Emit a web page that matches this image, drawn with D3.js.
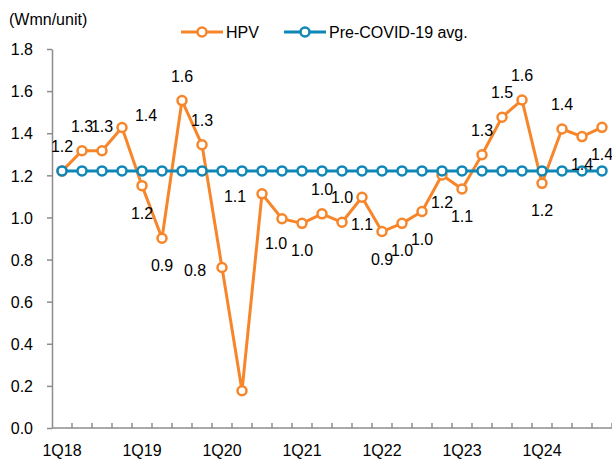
<!DOCTYPE html>
<html>
<head>
<meta charset="utf-8">
<script src="https://cdn.jsdelivr.net/npm/d3@7"></script>
<style>
  body { margin: 0; background: #fff; }
  svg { display: block; font-family: "Liberation Sans", Arial, sans-serif; }
</style>
</head>
<body>
<script>
// DEFINE VARIABLES
var quarters = [
  '1Q18', '2Q18', '3Q18', '4Q18',
  '1Q19', '2Q19', '3Q19', '4Q19',
  '1Q20', '2Q20', '3Q20', '4Q20',
  '1Q21', '2Q21', '3Q21', '4Q21',
  '1Q22', '2Q22', '3Q22', '4Q22',
  '1Q23', '2Q23', '3Q23', '4Q23',
  '1Q24', '2Q24', '3Q24', '4Q24'
];
var hpv = [
  1.22, 1.317, 1.317, 1.427,
  1.151, 0.901, 1.555, 1.345,
  0.762, 0.177, 1.112, 0.994,
  0.972, 1.017, 0.977, 1.096,
  0.933, 0.972, 1.028, 1.202,
  1.135, 1.298, 1.476, 1.558,
  1.162, 1.42, 1.384, 1.428
];
var preCovidAvg = 1.221;
var yTicks = [0, 0.2, 0.4, 0.6, 0.8, 1.0, 1.2, 1.4, 1.6, 1.8];
var xLabelEvery = 4;
// where each HPV data label sits: a=above, b=below, l=left, r=right, bl=below-left, n=none
var labelSide = [
  'a', 'a', 'a', 'r',
  'b', 'b', 'a', 'a',
  'l', 'n', 'l', 'bl',
  'b', 'a', 'a', 'b',
  'b', 'b', 'b', 'b',
  'b', 'a', 'a', 'a',
  'b', 'a', 'b', 'b'
];

var svgWidth = 612;
var svgHeight = 463;
var fontSize = '16px';
var orange = '#f7862a';
var blue = '#0f87b6';
var axisGrey = '#8c8c8c';

// DEFINE FUNCTIONS
function labelOffset(side) {
  if (side === 'a') return [0, -25];
  if (side === 'b') return [0, 27];
  if (side === 'l') return [-27, 2];
  if (side === 'r') return [24, -13];
  if (side === 'bl') return [-6, 24];
  return null;
}

document.addEventListener('DOMContentLoaded', function() {

  var svg = d3.select('body')
    .append('svg')
    .attr('width', svgWidth)
    .attr('height', svgHeight);

  var x = d3.scaleBand()
    .domain(quarters)
    .range([52, 612]);

  var y = d3.scaleLinear()
    .domain([0, 1.8])
    .range([428, 49]);

  function cx(q) {
    return x(q) + x.bandwidth() / 2;
  }

  // y axis
  var yAxis = svg.append('g')
    .attr('transform', 'translate(52,0)')
    .call(d3.axisLeft(y)
      .tickValues(yTicks)
      .tickFormat(d3.format('.1f'))
      .tickSize(5)
      .tickSizeOuter(0)
      .tickPadding(14));
  yAxis.select('.domain').attr('stroke', axisGrey).attr('stroke-width', 1.5);
  yAxis.selectAll('.tick line').attr('stroke', axisGrey).attr('stroke-width', 1.5);
  yAxis.selectAll('.tick text')
    .attr('fill', '#000')
    .attr('dy', '0.36em')
    .style('font-size', fontSize)
    .style('font-family', '"Liberation Sans", Arial, sans-serif');

  // x axis: line, ticks between quarters pointing up, labels every 4th quarter
  var xAxis = svg.append('g');
  xAxis.append('line')
    .attr('x1', 52)
    .attr('x2', 612)
    .attr('y1', y(0))
    .attr('y2', y(0))
    .attr('stroke', axisGrey)
    .attr('stroke-width', 1.5);

  xAxis.selectAll('.xtick')
    .data(quarters)
    .enter()
    .append('line')
    .attr('class', 'xtick')
    .attr('x1', function(d) { return x(d) + x.bandwidth(); })
    .attr('x2', function(d) { return x(d) + x.bandwidth(); })
    .attr('y1', y(0))
    .attr('y2', y(0) - 5)
    .attr('stroke', axisGrey)
    .attr('stroke-width', 1.5);

  xAxis.selectAll('.xlabel')
    .data(quarters.filter(function(d, i) { return i % xLabelEvery === 0; }))
    .enter()
    .append('text')
    .attr('class', 'xlabel')
    .attr('x', function(d) { return cx(d); })
    .attr('y', y(0) + 28)
    .attr('text-anchor', 'middle')
    .style('font-size', fontSize)
    .text(function(d) { return d; });

  // HPV series
  var seriesLine = d3.line()
    .x(function(d, i) { return cx(quarters[i]); })
    .y(function(d) { return y(d); });

  svg.append('path')
    .datum(hpv)
    .attr('d', seriesLine)
    .attr('fill', 'none')
    .attr('stroke', orange)
    .attr('stroke-width', 3)
    .attr('stroke-linejoin', 'round');

  svg.selectAll('.hpv-dot')
    .data(hpv)
    .enter()
    .append('circle')
    .attr('class', 'hpv-dot')
    .attr('cx', function(d, i) { return cx(quarters[i]); })
    .attr('cy', function(d) { return y(d); })
    .attr('r', 4.5)
    .attr('fill', '#fff')
    .attr('stroke', orange)
    .attr('stroke-width', 2.5);

  // pre-covid average series
  var avgData = quarters.map(function() { return preCovidAvg; });
  svg.append('path')
    .datum(avgData)
    .attr('d', seriesLine)
    .attr('fill', 'none')
    .attr('stroke', blue)
    .attr('stroke-width', 3);

  svg.selectAll('.avg-dot')
    .data(avgData)
    .enter()
    .append('circle')
    .attr('class', 'avg-dot')
    .attr('cx', function(d, i) { return cx(quarters[i]); })
    .attr('cy', function(d) { return y(d); })
    .attr('r', 4.5)
    .attr('fill', '#fff')
    .attr('stroke', blue)
    .attr('stroke-width', 2.5);

  // data labels
  var labelData = hpv.map(function(d, i) {
    return { q: quarters[i], v: d, off: labelOffset(labelSide[i]) };
  }).filter(function(d) { return d.off !== null; });

  svg.selectAll('.hpv-label')
    .data(labelData)
    .enter()
    .append('text')
    .attr('class', 'hpv-label')
    .attr('x', function(d) { return cx(d.q) + d.off[0]; })
    .attr('y', function(d) { return y(d.v) + d.off[1] + 6; })
    .attr('text-anchor', 'middle')
    .style('font-size', fontSize)
    .text(function(d) { return d3.format('.1f')(d.v); });

  // unit label
  svg.append('text')
    .attr('x', 9)
    .attr('y', 25)
    .style('font-size', fontSize)
    .text('(Wmn/unit)');

  // legend
  var legendItems = [
    { name: 'HPV', color: orange, x: 181 },
    { name: 'Pre-COVID-19 avg.', color: blue, x: 284 }
  ];
  var legend = svg.selectAll('.legend')
    .data(legendItems)
    .enter()
    .append('g')
    .attr('class', 'legend')
    .attr('transform', function(d) { return 'translate(' + d.x + ',32)'; });

  legend.append('line')
    .attr('x1', 0)
    .attr('x2', 42)
    .attr('stroke', function(d) { return d.color; })
    .attr('stroke-width', 3);
  legend.append('circle')
    .attr('cx', 21)
    .attr('r', 4.5)
    .attr('fill', '#fff')
    .attr('stroke', function(d) { return d.color; })
    .attr('stroke-width', 2.5);
  legend.append('text')
    .attr('x', 45)
    .attr('y', 6)
    .style('font-size', fontSize)
    .text(function(d) { return d.name; });

});
</script>
</body>
</html>
